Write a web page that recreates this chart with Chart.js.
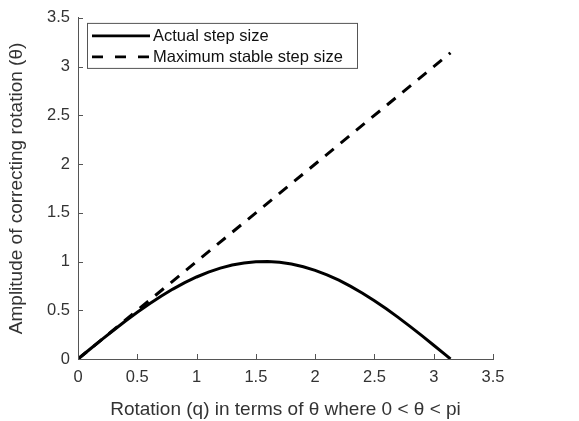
<!doctype html>
<html lang="en">
<head>
<meta charset="utf-8">
<title>Step size vs rotation</title>
<script src="https://cdn.jsdelivr.net/npm/chart.js@4.4.1/dist/chart.umd.min.js"></script>
<style>
 html,body{margin:0;padding:0;background:#fff}
 #wrap{width:579px;height:421px;position:relative}
</style>
</head>
<body>
<div id="wrap"><canvas id="c" width="579" height="421"></canvas></div>
<script>
/* ===== values ===== */
const rotation = [0,0.1,0.2,0.3,0.4,0.5,0.6,0.7,0.8,0.9,1.0,1.1,1.2,1.3,1.4,1.5,1.6,
  1.7,1.8,1.9,2.0,2.1,2.2,2.3,2.4,2.5,2.6,2.7,2.8,2.9,3.0,3.1,3.1416];
const actualStep = [0,0.0998,0.1987,0.2955,0.3894,0.4794,0.5646,0.6442,0.7174,0.7833,
  0.8415,0.8912,0.9320,0.9636,0.9854,0.9975,0.9996,0.9917,0.9738,0.9463,0.9093,0.8632,
  0.8085,0.7457,0.6755,0.5985,0.5155,0.4274,0.3350,0.2392,0.1411,0.0416,0];
const maxRotation = [0,3.1416];
const maxStable   = [0,3.1416];
const tickValues  = [0,0.5,1,1.5,2,2.5,3,3.5];

const FONT = 'Liberation Sans, Arial, sans-serif';

/* ticks pointing inward, like MATLAB */
const innerTicks = {
  id:'innerTicks',
  afterDraw(chart){
    const {ctx, chartArea:a, scales:{x,y}} = chart;
    ctx.save();
    ctx.strokeStyle = '#555'; ctx.lineWidth = 1;
    ctx.beginPath();
    tickValues.forEach(v=>{
      const px = Math.round(x.getPixelForValue(v))+0.5;
      ctx.moveTo(px, a.bottom); ctx.lineTo(px, a.bottom-5);
      const py = Math.round(y.getPixelForValue(v))+0.5;
      ctx.moveTo(a.left, py); ctx.lineTo(a.left+5, py);
    });
    ctx.stroke();
    ctx.restore();
  }
};

/* legend box inside the axes */
const boxLegend = {
  id:'boxLegend',
  afterDraw(chart){
    const {ctx, chartArea:a} = chart;
    const x0 = a.left+9, y0 = a.top+5, w = 270, h = 45;
    ctx.save();
    ctx.fillStyle = '#fff';
    ctx.fillRect(x0, y0, w, h);
    ctx.strokeStyle = '#555'; ctx.lineWidth = 1;
    ctx.strokeRect(x0+0.5, y0+0.5, w, h);
    ctx.font = '16.5px ' + FONT;
    ctx.textBaseline = 'middle';
    chart.data.datasets.forEach((ds,i)=>{
      const ly = y0 + 13 + i*21;
      ctx.strokeStyle = '#000'; ctx.lineWidth = 2.8;
      ctx.setLineDash(ds.borderDash ? [11,12] : []);
      ctx.beginPath(); ctx.moveTo(x0+5, ly); ctx.lineTo(x0+63, ly); ctx.stroke();
      ctx.setLineDash([]);
      ctx.fillStyle = '#111';
      ctx.fillText(ds.label, x0+66, ly+1);
    });
    ctx.restore();
  }
};

new Chart(document.getElementById('c'), {
  type:'line',
  data:{
    datasets:[
      {label:'Actual step size',
       data:rotation.map((r,i)=>({x:r,y:actualStep[i]})),
       borderColor:'#000', borderWidth:3, pointRadius:0, tension:0},
      {label:'Maximum stable step size',
       data:maxRotation.map((r,i)=>({x:r,y:maxStable[i]})),
       borderColor:'#000', borderWidth:3, borderDash:[11,9], pointRadius:0, tension:0}
    ]
  },
  options:{
    responsive:false, animation:false,
    layout:{padding:{left:0, top:15, right:86, bottom:0}},
    plugins:{legend:{display:false}, tooltip:{enabled:false}},
    scales:{
      x:{type:'linear', min:0, max:3.5,
        afterBuildTicks:s=>{s.ticks = tickValues.map(v=>({value:v}));},
        afterFit:s=>{s.height = 62;},
        grid:{display:false, drawTicks:false},
        border:{display:true, color:'#555', width:1},
        ticks:{color:'#333', padding:9, maxRotation:0, font:{family:FONT, size:16.5},
          callback:v=>String(v)},
        title:{display:true, text:'Rotation (q) in terms of \u03b8 where 0 < \u03b8 < pi',
          color:'#333', padding:{top:0,bottom:0}, font:{family:FONT, size:19}}
      },
      y:{type:'linear', min:0, max:3.5,
        afterBuildTicks:s=>{s.ticks = tickValues.map(v=>({value:v}));},
        afterFit:s=>{s.width = 78;},
        grid:{display:false, drawTicks:false},
        border:{display:true, color:'#555', width:1},
        ticks:{color:'#333', padding:8, font:{family:FONT, size:16.5},
          callback:v=>String(v)},
        title:{display:true, text:'Amplitude of correcting rotation (\u03b8)',
          color:'#333', padding:{top:5,bottom:0}, font:{family:FONT, size:19}}
      }
    }
  },
  plugins:[innerTicks, boxLegend]
});
</script>
</body>
</html>
